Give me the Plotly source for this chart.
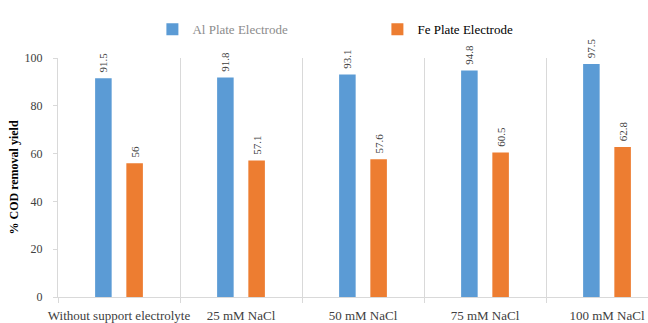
import plotly.graph_objects as go

# Treatment conditions (x categories)
categories = [
    "Without support electrolyte",
    "25 mM NaCl",
    "50 mM NaCl",
    "75 mM NaCl",
    "100 mM NaCl",
]
# % COD removal yield per electrode material
al_yield = [91.5, 91.8, 93.1, 94.8, 97.5]
fe_yield = [56, 57.1, 57.6, 60.5, 62.8]
y_ticks = [0, 20, 40, 60, 80, 100]

AL_COLOR = "#5b9bd5"
FE_COLOR = "#ed7d31"
GRID = "#d9d9d9"
SERIF = "Liberation Serif, Times New Roman, serif"

x_pos = list(range(len(categories)))


def fmt(v):
    # a leading no-break space lifts the rotated label a little off the bar
    return "\u00a0" + f"{v:g}"


def bar_trace(values, name, color):
    return go.Bar(
        x=x_pos, y=values, name=name,
        marker=dict(color=color, line=dict(width=0)),
        text=[fmt(v) for v in values],
        textposition="outside", textangle=-90, constraintext="none",
        cliponaxis=False,
        textfont=dict(family=SERIF, size=11, color="#404040"),
    )


fig = go.Figure()
fig.add_trace(bar_trace(al_yield, "<span style='color:#8c8c8c'>Al Plate Electrode</span>", AL_COLOR))
fig.add_trace(bar_trace(fe_yield, "Fe Plate Electrode", FE_COLOR))

plot_left, plot_width = 58, 590
cat_px = 122  # pixel width of one category band
x_end = -0.5 + plot_width / cat_px

fig.update_layout(
    width=648, height=323,
    margin=dict(l=plot_left, r=0, t=58, b=26),
    paper_bgcolor="white", plot_bgcolor="white",
    barmode="group", bargap=0.488, bargroupgap=0.47,
    font=dict(family=SERIF, size=12, color="#404040"),
    showlegend=True,
    legend=dict(
        orientation="h", x=0.16, xanchor="left", y=1.12, yanchor="middle",
        itemwidth=30, entrywidth=180, entrywidthmode="pixels",
        font=dict(family=SERIF, size=13, color="#000000"),
        bgcolor="rgba(0,0,0,0)",
        itemclick=False, itemdoubleclick=False,
    ),
    xaxis=dict(
        range=[-0.5, x_end],
        tickmode="array", tickvals=x_pos, ticktext=categories,
        ticks="", showgrid=False, zeroline=False,
        showline=True, linecolor=GRID, linewidth=1,
        ticklabelstandoff=6,
        tickfont=dict(family=SERIF, size=13, color="#404040"),
        minor=dict(tick0=0.5, dtick=1, ticks="outside", ticklen=5,
                   tickcolor=GRID, showgrid=True, gridcolor=GRID, gridwidth=1),
        fixedrange=True,
    ),
    yaxis=dict(
        range=[0, 100],
        tickmode="array", tickvals=y_ticks,
        ticks="outside", ticklen=4, tickcolor=GRID,
        showline=True, linecolor=GRID, linewidth=1,
        showgrid=False, zeroline=False,
        ticklabelstandoff=8,
        tickfont=dict(family=SERIF, size=12, color="#404040"),
        title=dict(text="<b>% COD removal yield</b>", standoff=3,
                   font=dict(family=SERIF, size=12, color="#000000")),
        fixedrange=True,
    ),
)

fig.write_html("out.html")
